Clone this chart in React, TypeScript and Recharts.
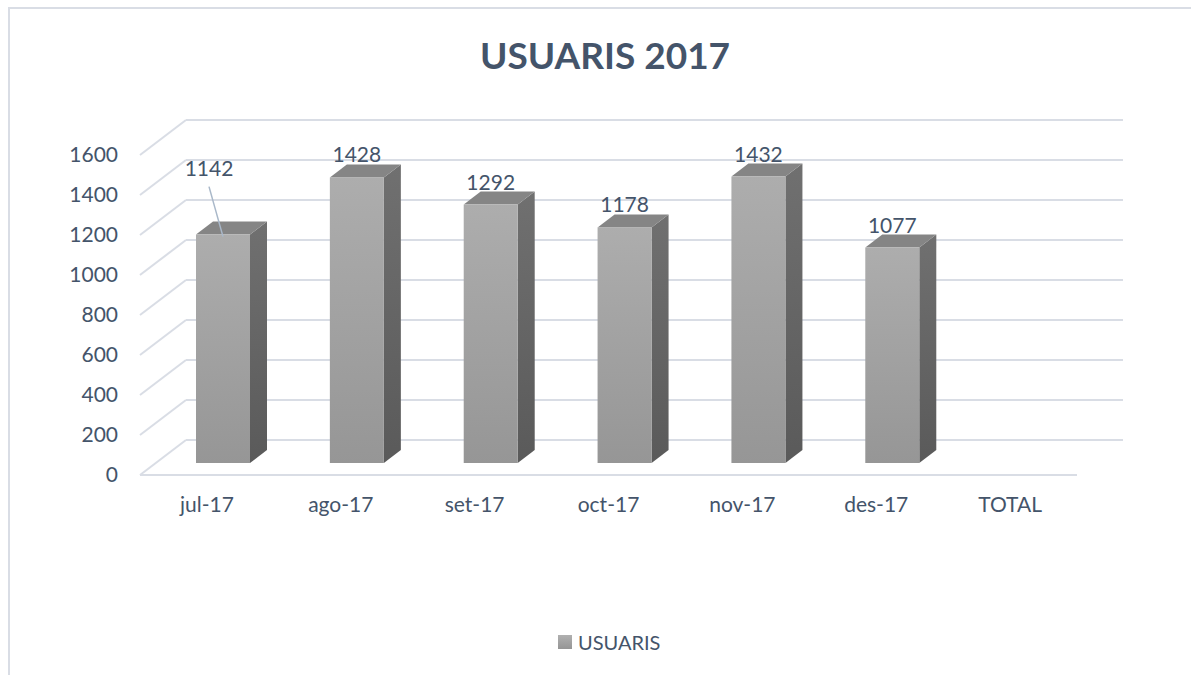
import React from 'react';
import { BarChart, Bar, XAxis, YAxis, CartesianGrid, LabelList } from 'recharts';

const months = ['jul-17', 'ago-17', 'set-17', 'oct-17', 'nov-17', 'des-17', 'TOTAL'];
const usuaris: (number | null)[] = [1142, 1428, 1292, 1178, 1432, 1077, null];
const yTicks = [0, 200, 400, 600, 800, 1000, 1200, 1400, 1600];

const data = months.map((month, i) => ({ month, usuaris: usuaris[i] }));

const FONT = 'Lato, "Noto Sans", sans-serif';
const TEXT = '#44546a';
const GRID = '#d9dde5';

// 3D offsets (front plane -> back wall, front plane -> bar front, bar depth)
const WALL = { dx: 46, dy: -35 };
const FRONT = { dx: 16, dy: -12 };
const DEPTH = { dx: 17, dy: -13 };

const gridLine = (props: any) => {
  const { x1, y1, x2, key } = props;
  const bx = x1 + WALL.dx;
  const by = y1 + WALL.dy;
  return (
    <g key={key}>
      <line x1={x1} y1={y1} x2={bx} y2={by} stroke={GRID} strokeWidth={2} />
      <line x1={bx} y1={by} x2={x2 + WALL.dx} y2={by} stroke={GRID} strokeWidth={2} />
    </g>
  );
};

const Bar3D = (props: any) => {
  const { x, y, width, height } = props;
  if (!height || height <= 0) return null;
  const X = x + FRONT.dx;
  const Y = y + FRONT.dy;
  const B = y + height + FRONT.dy;
  const W = width;
  const { dx, dy } = DEPTH;
  return (
    <g>
      <polygon
        points={`${X + W},${Y} ${X + W + dx},${Y + dy} ${X + W + dx},${B + dy} ${X + W},${B}`}
        fill="url(#sideGrad)"
      />
      <polygon
        points={`${X},${Y} ${X + dx},${Y + dy} ${X + W + dx},${Y + dy} ${X + W},${Y}`}
        fill="#858585"
      />
      <rect x={X} y={Y} width={W} height={B - Y} fill="url(#frontGrad)" />
    </g>
  );
};

const ValueLabel = (props: any) => {
  const { x, y, width, value, index } = props;
  if (value == null) return null;
  const cx = x + FRONT.dx + width / 2;
  const top = y + FRONT.dy;
  if (index === 0) {
    return (
      <g>
        <line x1={cx - 14} y1={top - 48} x2={cx} y2={top + 2} stroke="#a9b8c9" strokeWidth={1.5} />
        <text x={cx - 14} y={top - 59} textAnchor="middle" fontSize={21} fill={TEXT} fontFamily={FONT}>
          {value}
        </text>
      </g>
    );
  }
  return (
    <text x={cx} y={top - 15} textAnchor="middle" fontSize={21} fill={TEXT} fontFamily={FONT}>
      {value}
    </text>
  );
};

export default function App() {
  return (
    <div style={{ position: 'absolute', left: 0, top: 0, width: 1191, height: 675, background: '#fff', overflow: 'hidden' }}>
      <div
        style={{
          position: 'absolute',
          left: 8,
          top: 7,
          width: 1300,
          height: 800,
          borderTop: `2px solid ${GRID}`,
          borderLeft: `2px solid ${GRID}`,
        }}
      />
      <div
        style={{
          position: 'absolute',
          left: 0,
          width: 1210,
          top: 32,
          textAlign: 'center',
          fontFamily: FONT,
          fontWeight: 700,
          fontSize: 37,
          color: TEXT,
        }}
      >
        USUARIS 2017
      </div>
      <div style={{ position: 'absolute', left: 0, top: 0 }}>
        <BarChart width={1191} height={675} data={data} margin={{ top: 155, right: 114, left: 80, bottom: 170 }}>
          <defs>
            <linearGradient id="frontGrad" x1="0" y1="0" x2="0" y2="1">
              <stop offset="0%" stopColor="#adadad" />
              <stop offset="100%" stopColor="#969696" />
            </linearGradient>
            <linearGradient id="sideGrad" x1="0" y1="0" x2="0" y2="1">
              <stop offset="0%" stopColor="#707070" />
              <stop offset="100%" stopColor="#5a5a5a" />
            </linearGradient>
          </defs>
          <CartesianGrid vertical={false} horizontal={gridLine} />
          <XAxis
            dataKey="month"
            height={30}
            tickLine={false}
            tickSize={0}
            tickMargin={22}
            axisLine={{ stroke: GRID, strokeWidth: 2 }}
            tick={{ fontSize: 21, fill: TEXT, fontFamily: FONT }}
            interval={0}
          />
          <YAxis
            width={60}
            domain={[0, 1600]}
            ticks={yTicks}
            tickLine={false}
            tickSize={0}
            tickMargin={22}
            axisLine={false}
            tick={{ fontSize: 21, fill: TEXT, fontFamily: FONT }}
          />
          <Bar dataKey="usuaris" barSize={54} shape={<Bar3D />} isAnimationActive={false}>
            <LabelList dataKey="usuaris" content={<ValueLabel />} />
          </Bar>
        </BarChart>
      </div>
      <div
        style={{
          position: 'absolute',
          left: 558,
          top: 630,
          display: 'flex',
          alignItems: 'center',
          fontFamily: FONT,
          fontSize: 20,
          color: TEXT,
        }}
      >
        <span
          style={{
            display: 'inline-block',
            width: 14,
            height: 14,
            marginRight: 6,
            background: 'linear-gradient(#b0b0b0, #959595)',
          }}
        />
        <span>USUARIS</span>
      </div>
    </div>
  );
}
